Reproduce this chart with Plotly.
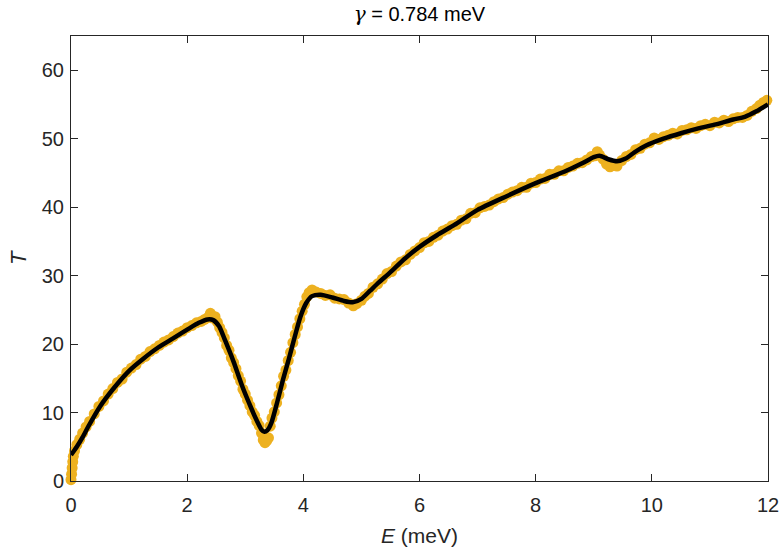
import plotly.graph_objects as go

# Smoothed curve (black line)
E_line = [0.0, 0.1, 0.2, 0.3, 0.5, 0.75, 1.0, 1.25, 1.5, 1.75, 2.0, 2.2, 2.35, 2.45,
          2.55, 2.65, 2.8, 2.95, 3.1, 3.2, 3.28, 3.33, 3.38, 3.45, 3.55, 3.65, 3.75,
          3.85, 3.95, 4.05, 4.15, 4.3, 4.5, 4.7, 4.85, 5.0, 5.15, 5.3, 5.5, 5.75, 6.0,
          6.3, 6.6, 7.0, 7.5, 8.0, 8.5, 8.8, 9.0, 9.1, 9.25, 9.4, 9.55, 9.7, 9.9, 10.2,
          10.5, 10.8, 11.1, 11.4, 11.6, 11.8, 12.0]
T_line = [3.8, 5.0, 6.4, 8.0, 10.9, 13.7, 16.1, 17.9, 19.5, 20.8, 22.1, 23.1, 23.6, 23.5,
          22.6, 20.6, 17.4, 13.8, 10.7, 8.8, 7.5, 7.2, 7.4, 8.5, 11.5, 14.8, 17.8,
          21.0, 24.0, 26.0, 27.0, 27.2, 26.8, 26.3, 26.1, 26.6, 27.8, 29.0, 30.5, 32.5, 34.2,
          35.9, 37.4, 39.6, 41.6, 43.5, 45.2, 46.4, 47.3, 47.5, 47.0, 46.7, 47.1, 48.0, 49.0, 50.0,
          50.8, 51.5, 52.1, 52.8, 53.2, 54.0, 55.0]

# Measured points (orange dots)
E_pts = [0.00, 0.01, 0.02, 0.03, 0.04, 0.06, 0.10, 0.15, 0.20, 0.26, 0.32, 0.40, 0.48, 0.56,
         0.64, 0.72, 0.80, 0.88, 0.96, 1.04, 1.12, 1.20, 1.28, 1.36, 1.44, 1.52, 1.60, 1.68,
         1.76, 1.84, 1.92, 2.00, 2.08, 2.16, 2.24, 2.30, 2.36, 2.40, 2.44, 2.48, 2.52, 2.56,
         2.60, 2.64, 2.68, 2.72, 2.76, 2.80, 2.84, 2.88, 2.92, 2.96, 3.00, 3.04, 3.08, 3.12,
         3.16, 3.20, 3.24, 3.28, 3.31, 3.34, 3.37, 3.40, 3.43, 3.46, 3.50, 3.54, 3.58, 3.62,
         3.66, 3.70, 3.74, 3.78, 3.82, 3.86, 3.90, 3.94, 3.98, 4.02, 4.06, 4.10, 4.15, 4.22,
         4.30, 4.38, 4.46, 4.54, 4.62, 4.70, 4.78, 4.86, 4.92, 5.00, 5.06, 5.12, 5.20, 5.28,
         5.36, 5.44, 5.52, 5.60, 5.68, 5.76, 5.84, 5.92, 6.00, 6.08, 6.16, 6.24, 6.32, 6.40,
         6.48, 6.56, 6.64, 6.72, 6.80, 6.88, 6.96, 7.04, 7.12, 7.20, 7.28, 7.36, 7.44, 7.52,
         7.60, 7.68, 7.76, 7.84, 7.92, 8.00, 8.08, 8.16, 8.24, 8.32, 8.40, 8.48, 8.56, 8.64,
         8.72, 8.80, 8.88, 8.96, 9.02, 9.06, 9.10, 9.16, 9.22, 9.28, 9.34, 9.40, 9.48, 9.56,
         9.64, 9.72, 9.80, 9.88, 9.96, 10.04, 10.12, 10.20, 10.28, 10.36, 10.44, 10.52, 10.60,
         10.68, 10.76, 10.84, 10.92, 11.00, 11.08, 11.16, 11.24, 11.32, 11.40, 11.48, 11.56,
         11.64, 11.72, 11.80, 11.86, 11.92, 11.98]
T_pts = [0.2, 1.0, 1.9, 2.8, 3.6, 4.4, 5.3, 6.1, 7.0, 7.9, 8.7, 9.8, 10.9, 11.7,
         12.7, 13.5, 14.4, 14.9, 15.9, 16.5, 17.0, 17.8, 18.2, 18.9, 19.3, 19.8, 20.3, 20.6,
         21.1, 21.6, 21.9, 22.4, 22.7, 23.1, 23.3, 23.6, 23.9, 24.5, 23.8, 24.0, 23.2, 22.4,
         21.7, 20.9, 19.8, 19.1, 18.0, 17.3, 16.4, 15.4, 14.6, 13.4, 12.7, 11.8, 11.0, 10.1,
         9.6, 8.7, 8.1, 7.0, 6.0, 5.6, 5.9, 6.3, 8.0, 9.2, 10.1, 11.4, 12.6, 13.9,
         15.3, 16.2, 17.6, 18.8, 20.2, 21.4, 22.5, 23.7, 24.8, 25.8, 26.9, 27.5, 27.9, 27.6,
         27.4, 27.1, 27.2, 26.7, 26.6, 26.5, 26.0, 25.6, 25.9, 26.4, 27.0, 27.4, 28.3, 28.8,
         29.5, 30.3, 30.6, 31.4, 32.0, 32.3, 33.1, 33.6, 34.1, 34.8, 35.0, 35.6, 35.9, 36.5,
         36.8, 37.3, 37.5, 38.1, 38.3, 39.1, 39.2, 39.9, 40.1, 40.3, 40.8, 41.2, 41.4, 41.9,
         42.2, 42.4, 42.9, 42.9, 43.5, 43.6, 44.1, 44.2, 44.8, 44.8, 45.3, 45.3, 45.8, 46.0,
         46.4, 46.5, 46.9, 47.4, 47.5, 48.1, 47.6, 47.0, 46.3, 45.9, 46.1, 46.0, 46.8, 47.4,
         47.7, 48.4, 48.6, 49.2, 49.4, 50.1, 49.9, 50.3, 50.5, 50.8, 50.7, 51.2, 51.3,
         51.6, 51.5, 51.9, 52.1, 51.9, 52.4, 52.3, 52.7, 52.5, 52.9, 53.1, 53.1,
         53.4, 54.0, 54.4, 54.9, 55.3, 55.6]

x_ticks = [0, 2, 4, 6, 8, 10, 12]
y_ticks = [0, 10, 20, 30, 40, 50, 60]

TXT = "#262626"
FONT = "Liberation Sans, Arial, sans-serif"

fig = go.Figure()
fig.add_trace(go.Scatter(x=E_pts, y=T_pts, mode="markers",
                         marker=dict(color="#EDB120", size=11, line=dict(width=0)),
                         showlegend=False, cliponaxis=False))
fig.add_trace(go.Scatter(x=E_line, y=T_line, mode="lines",
                         line=dict(color="black", width=4.5, shape="spline", smoothing=0.6),
                         showlegend=False))

axis_common = dict(showline=True, linecolor=TXT, linewidth=1, mirror="ticks",
                   ticks="inside", ticklen=7, tickcolor=TXT, tickwidth=1,
                   showgrid=False, zeroline=False, automargin=False,
                   tickfont=dict(family=FONT, size=20, color=TXT))

fig.update_layout(
    width=780, height=548,
    margin=dict(l=71, r=12, t=36, b=67),
    plot_bgcolor="white", paper_bgcolor="white",
    title=dict(text="<span style='font-family:DejaVu Serif'><i>γ</i></span> = 0.784 meV",
               x=0.5377, xanchor="center", y=0.988, yanchor="top",
               font=dict(family=FONT, size=20, color="black")),
    xaxis=dict(range=[0, 12], tickvals=x_ticks, ticktext=[str(v) for v in x_ticks],
               ticklabelstandoff=6, **axis_common),
    yaxis=dict(range=[0, 65], tickvals=y_ticks, ticktext=[str(v) for v in y_ticks],
               ticklabelstandoff=2, **axis_common),
    annotations=[
        dict(text="<i>E</i> (meV)", xref="paper", yref="paper", x=0.5, y=-0.1225,
             xanchor="center", yanchor="middle", showarrow=False,
             font=dict(family=FONT, size=21, color=TXT)),
        dict(text="<i>T</i>", xref="paper", yref="paper", x=-0.076, y=0.501,
             xanchor="center", yanchor="middle", showarrow=False, textangle=-90,
             font=dict(family=FONT, size=22, color=TXT)),
    ],
)

fig.write_html("out.html")
